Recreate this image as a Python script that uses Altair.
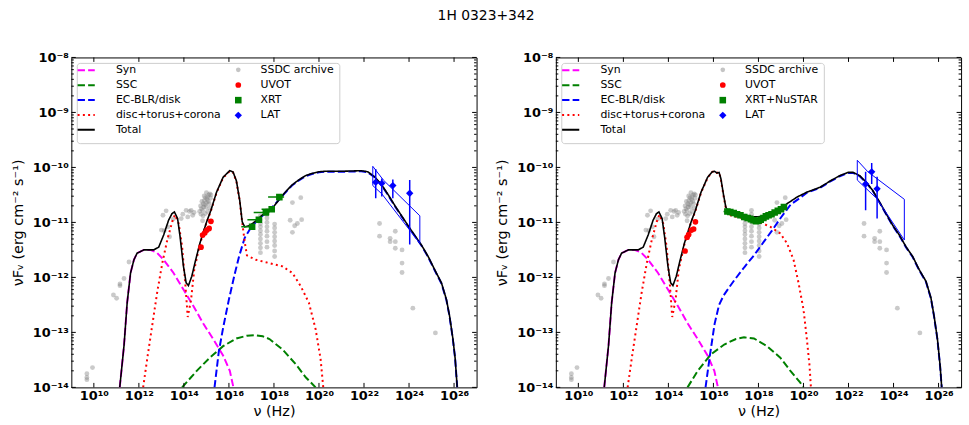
import math
import altair as alt
import pandas as pd

FONT = "DejaVu Sans"
W, H = 409, 333

# ---------------- model curves (log10 nu [Hz], log10 nuFnu [erg cm-2 s-1]) ----------------
SYN_X = [11.15, 11.34, 11.48, 11.63, 11.78, 11.92, 12.22, 12.50, 12.80, 13.10, 13.54, 13.98, 14.42, 14.86, 15.30, 15.74, 16.04, 16.20]
SYN_Y = [-14.0, -13.24, -12.46, -11.92, -11.68, -11.56, -11.50, -11.50, -11.55, -11.68, -11.92, -12.22, -12.52, -12.84, -13.12, -13.42, -13.70, -14.0]

SSC_L_X = [13.92, 14.57, 15.15, 15.74, 16.33, 16.80, 17.15, 17.50, 17.80, 18.38, 18.97, 19.42, 19.85]
SSC_L_Y = [-14.0, -13.70, -13.46, -13.25, -13.11, -13.06, -13.05, -13.07, -13.12, -13.31, -13.58, -13.82, -14.0]

EC_L_X = [15.36, 15.55, 15.75, 16.00, 16.25, 16.45, 16.70, 17.00, 17.36, 17.80, 18.20, 18.50, 18.80, 19.09, 19.40, 19.68, 20.00, 20.26, 21.00, 21.88, 22.17, 22.47, 22.79, 23.08, 23.38, 23.67, 23.96, 24.26, 24.55, 24.85, 25.14, 25.44, 25.66, 25.80, 25.95, 26.05, 26.14]
EC_L_Y = [-14.0, -13.35, -12.90, -12.40, -11.95, -11.62, -11.28, -11.08, -10.92, -10.78, -10.60, -10.46, -10.33, -10.24, -10.16, -10.12, -10.09, -10.08, -10.08, -10.07, -10.09, -10.18, -10.33, -10.51, -10.71, -10.89, -11.07, -11.25, -11.42, -11.63, -11.87, -12.11, -12.41, -12.71, -13.13, -13.49, -14.0]

DISC_L_X = [12.19, 12.37, 12.59, 12.81, 13.04, 13.26, 13.48, 13.60, 13.77, 13.92, 14.07, 14.17, 14.32, 14.46, 14.71, 15.00, 15.20, 15.45, 15.74, 16.03, 16.18, 16.33, 16.48, 16.59, 16.70, 16.80, 17.20, 17.80, 18.38, 18.82, 19.19, 19.55, 19.85, 20.07, 20.19]
DISC_L_Y = [-14.0, -13.48, -12.88, -12.28, -11.74, -11.32, -10.99, -10.86, -11.02, -11.44, -12.16, -12.72, -12.40, -11.86, -11.40, -11.01, -10.79, -10.46, -10.19, -10.07, -10.09, -10.25, -10.61, -11.0, -11.35, -11.60, -11.68, -11.74, -11.80, -11.92, -12.16, -12.46, -12.94, -13.48, -14.0]

TOT_L_X = [11.15, 11.34, 11.48, 11.63, 11.78, 11.92, 12.22, 12.66, 12.88, 13.10, 13.32, 13.47, 13.58, 13.72, 13.83, 13.98, 14.10, 14.20, 14.35, 14.50, 14.71, 15.00, 15.20, 15.45, 15.74, 16.03, 16.18, 16.33, 16.48, 16.59, 16.70, 16.92, 17.20, 17.50, 17.92, 18.20, 18.50, 18.80, 19.09, 19.40, 19.68, 20.00, 20.26, 21.00, 21.88, 22.17, 22.47, 22.79, 23.08, 23.38, 23.67, 23.96, 24.26, 24.55, 24.85, 25.14, 25.44, 25.66, 25.80, 25.95, 26.05, 26.14]
TOT_L_Y = [-14.0, -13.24, -12.46, -11.92, -11.68, -11.56, -11.50, -11.50, -11.45, -11.23, -10.96, -10.84, -10.81, -10.93, -11.26, -11.80, -12.10, -12.15, -11.98, -11.72, -11.38, -11.00, -10.78, -10.45, -10.18, -10.06, -10.08, -10.24, -10.60, -10.99, -11.08, -11.06, -10.97, -10.86, -10.75, -10.60, -10.45, -10.32, -10.23, -10.15, -10.11, -10.08, -10.07, -10.07, -10.06, -10.08, -10.17, -10.32, -10.50, -10.70, -10.88, -11.06, -11.24, -11.41, -11.62, -11.86, -12.10, -12.40, -12.70, -13.12, -13.48, -14.0]

SSC_R_X = [14.85, 15.30, 15.89, 16.48, 17.00, 17.36, 17.80, 18.38, 18.97, 19.42, 19.85, 20.0]
SSC_R_Y = [-14.0, -13.70, -13.40, -13.22, -13.12, -13.09, -13.11, -13.25, -13.46, -13.70, -13.91, -14.0]

EC_R_X = [15.65, 15.85, 16.05, 16.25, 16.45, 16.70, 16.93, 17.36, 17.80, 18.24, 18.60, 19.00, 19.44, 19.87, 20.15, 20.74, 21.17, 21.61, 21.98, 22.20, 22.50, 22.79, 23.08, 23.38, 23.67, 23.96, 24.26, 24.55, 24.85, 25.14, 25.44, 25.66, 25.80, 25.95, 26.07, 26.14]
EC_R_Y = [-14.0, -13.40, -12.85, -12.50, -12.33, -12.18, -12.05, -11.82, -11.60, -11.35, -11.15, -10.91, -10.67, -10.55, -10.46, -10.37, -10.26, -10.16, -10.10, -10.10, -10.16, -10.28, -10.43, -10.64, -10.85, -11.06, -11.24, -11.45, -11.63, -11.87, -12.08, -12.38, -12.71, -13.13, -13.62, -14.0]

DISC_R_X = [12.19, 12.37, 12.59, 12.81, 13.04, 13.26, 13.48, 13.60, 13.77, 13.92, 14.07, 14.17, 14.32, 14.46, 14.71, 15.00, 15.20, 15.45, 15.74, 15.95, 16.05, 16.15, 16.25, 16.33, 16.45, 16.55, 16.65, 16.80, 17.30, 17.80, 18.09, 18.53, 18.97, 19.27, 19.56, 19.78, 20.00, 20.15, 20.27, 20.33]
DISC_R_Y = [-14.0, -13.48, -12.88, -12.28, -11.74, -11.32, -10.99, -10.86, -11.02, -11.44, -12.16, -12.72, -12.40, -11.86, -11.40, -11.01, -10.79, -10.46, -10.19, -10.08, -10.07, -10.10, -10.09, -10.21, -10.52, -10.74, -10.83, -10.88, -10.92, -10.96, -11.00, -11.08, -11.20, -11.38, -11.68, -12.10, -12.58, -13.12, -13.61, -14.0]

TOT_R_X = [11.15, 11.34, 11.48, 11.63, 11.78, 11.92, 12.22, 12.66, 12.88, 13.10, 13.32, 13.47, 13.58, 13.72, 13.83, 13.98, 14.10, 14.20, 14.35, 14.50, 14.71, 15.00, 15.20, 15.45, 15.74, 15.95, 16.05, 16.15, 16.25, 16.33, 16.45, 16.55, 16.65, 16.80, 17.21, 17.80, 18.24, 18.41, 18.71, 19.08, 19.27, 19.71, 20.15, 20.74, 21.17, 21.61, 21.98, 22.20, 22.50, 22.79, 23.08, 23.38, 23.67, 23.96, 24.26, 24.55, 24.85, 25.14, 25.44, 25.66, 25.80, 25.95, 26.07, 26.14]
TOT_R_Y = [-14.0, -13.24, -12.46, -11.92, -11.68, -11.56, -11.50, -11.50, -11.45, -11.23, -10.96, -10.84, -10.81, -10.93, -11.26, -11.80, -12.10, -12.15, -11.98, -11.72, -11.38, -11.00, -10.78, -10.45, -10.18, -10.08, -10.07, -10.10, -10.09, -10.20, -10.50, -10.72, -10.80, -10.83, -10.86, -10.90, -10.89, -10.85, -10.81, -10.73, -10.66, -10.54, -10.45, -10.36, -10.25, -10.15, -10.09, -10.09, -10.15, -10.27, -10.42, -10.63, -10.84, -11.05, -11.23, -11.44, -11.62, -11.86, -12.07, -12.37, -12.70, -13.12, -13.61, -14.0]

# ---------------- data points ----------------
SSDC_X = [9.69, 9.69, 9.69, 9.94, 10.87, 11.01, 11.16, 11.16, 11.34, 11.56,
          13.00, 13.07, 13.13, 13.21, 13.29, 13.36, 13.52, 13.88, 13.95, 14.10, 14.17, 14.25, 14.32, 14.39, 14.45,
          14.70, 14.74, 14.78, 14.80, 14.83, 14.86, 14.88, 14.91, 14.93, 14.96, 14.98, 15.00, 15.03, 15.05, 15.08,
          15.10, 15.12, 15.15, 15.18, 15.20, 14.76, 14.85, 14.95, 15.05, 15.15, 14.90, 15.00, 14.83,
          17.40, 17.40, 17.40, 17.40, 17.40, 17.40, 17.40, 17.40, 17.40, 17.40,
          17.69, 17.69, 17.69, 17.69, 17.69, 17.69, 17.69, 17.69, 17.69,
          18.03, 18.03, 18.03, 18.03, 18.03, 18.03, 18.03, 18.03,
          18.72, 18.82, 18.82, 18.92, 19.04, 19.19, 19.23,
          22.69, 22.69, 23.16, 23.16, 23.39, 23.39, 23.39, 23.69, 23.69, 23.69, 24.17, 25.17]
SSDC_Y = [-13.75, -13.82, -13.86, -13.64, -12.32, -12.38, -12.12, -12.15, -12.02, -11.72,
          -11.14, -10.87, -11.15, -10.79, -11.08, -11.26, -10.94, -10.93, -10.85, -10.78, -10.90, -10.80, -10.78, -10.87, -10.82,
          -10.80, -10.70, -10.75, -10.62, -10.78, -10.66, -10.72, -10.60, -10.68, -10.55, -10.72, -10.64, -10.58, -10.54, -10.62,
          -10.50, -10.66, -10.48, -10.56, -10.50, -10.85, -10.88, -10.84, -10.80, -10.74, -10.52, -10.46, -10.97,
          -10.88, -10.95, -11.02, -11.08, -11.15, -11.22, -11.30, -11.38, -11.46, -11.55,
          -10.78, -10.85, -10.92, -11.00, -11.08, -11.16, -11.25, -11.35, -11.45,
          -11.03, -11.10, -11.18, -11.26, -11.34, -11.42, -11.52, -11.62,
          -10.96, -10.64, -11.18, -11.06, -11.02, -10.55, -10.95,
          -11.02, -11.25, -11.29, -11.35, -11.16, -11.35, -11.47, -11.50, -11.74, -11.91, -12.56, -13.01]

UVOT_L_X = [14.76, 14.83, 14.93, 15.02, 15.12, 15.20]
UVOT_L_Y = [-11.45, -11.23, -11.19, -11.14, -11.11, -10.98]
UVOT_R_X = [14.74, 14.83, 14.90, 15.02, 15.12, 15.20]
UVOT_R_Y = [-11.52, -11.27, -11.22, -11.14, -11.12, -10.99]

XRT_L_X = [17.03, 17.33, 17.64, 17.90, 18.24]
XRT_L_Y = [-11.08, -10.95, -10.82, -10.76, -10.54]
XRT_L_LO = [16.55, 16.82, 17.10, 17.45, 17.74]
XRT_L_HI = [17.10, 17.42, 17.80, 18.00, 18.45]

XRT_R_X = [16.62, 16.75, 16.90, 17.05, 17.20, 17.37, 17.52, 17.66, 17.78, 17.89, 18.00, 18.10, 18.22, 18.33, 18.45, 18.58, 18.72, 18.86, 19.00, 19.13]
XRT_R_Y = [-10.80, -10.81, -10.83, -10.85, -10.87, -10.90, -10.92, -10.94, -10.96, -10.98, -10.97, -10.95, -10.92, -10.89, -10.87, -10.85, -10.82, -10.79, -10.76, -10.72]
XRT_R_LO = [16.45, 16.68, 16.83, 16.98, 17.13, 17.30, 17.45, 17.59, 17.72, 17.83, 17.94, 18.04, 18.16, 18.27, 18.39, 18.52, 18.66, 18.80, 18.94, 19.07]
XRT_R_HI = [16.69, 16.82, 16.97, 17.12, 17.27, 17.44, 17.59, 17.73, 17.84, 17.95, 18.06, 18.16, 18.28, 18.39, 18.51, 18.64, 18.78, 18.92, 19.06, 19.19]

LAT_L_X = [22.52, 22.79, 23.28, 24.03]
LAT_L_Y = [-10.27, -10.29, -10.33, -10.47]
LAT_L_YLO = [-10.56, -10.53, -10.56, -11.40]
LAT_L_YHI = [-10.03, -10.20, -10.22, -10.23]
LAT_L_XLO = [22.45, 22.72, 23.21, 23.96]
LAT_L_XHI = [22.59, 22.86, 23.35, 24.10]

LAT_R_X = [22.76, 23.03, 23.27]
LAT_R_Y = [-10.30, -10.08, -10.39]
LAT_R_YLO = [-10.78, -10.30, -10.93]
LAT_R_YHI = [-10.08, -9.92, -10.17]
LAT_R_XLO = [22.69, 22.96, 23.20]
LAT_R_XHI = [22.83, 23.10, 23.34]

BOW_L_X = [22.39, 22.86, 24.48, 24.48, 22.79, 22.39, 22.39]
BOW_L_Y = [-9.98, -10.23, -10.88, -11.38, -10.48, -10.33, -9.98]
BOW_R_X = [22.39, 22.86, 24.48, 24.48, 23.24, 22.39, 22.39]
BOW_R_Y = [-9.87, -10.08, -10.58, -11.32, -10.56, -10.23, -9.87]

# ---------------- styling ----------------
COMPS = ["Syn", "SSC", "EC-BLR/disk", "disc+torus+corona", "Total"]
COMP_COLORS = ["#ff00ff", "#008000", "#0000ff", "#ff0000", "#000000"]
COMP_DASH = [[7.4, 3.2], [7.4, 3.2], [7.4, 3.2], [2, 3.3], [1, 0]]
COMP_WIDTH = [2, 2, 2, 2, 1.6]

XVALS = [10, 12, 14, 16, 18, 20, 22, 24, 26]
YVALS = [-14, -13, -12, -11, -10, -9, -8]
YMINOR = [n + math.log10(k) for n in range(-14, -8) for k in range(2, 10)]

SUP = str.maketrans("-0123456789", "⁻⁰¹²³⁴⁵⁶⁷⁸⁹")


def label_expr(vals):
    return " : ".join(f"datum.value == {v} ? '10{str(v).translate(SUP)}'" for v in vals) + " : ''"


xscale = alt.Scale(domain=[9, 27], nice=False, zero=False)
yscale = alt.Scale(domain=[-14, -8], nice=False, zero=False)

xaxis = alt.Axis(values=XVALS, labelExpr=label_expr(XVALS), ticks=False, domain=False, grid=False,
                 title="ν (Hz)", labelFont=FONT, labelFontSize=13, labelFontWeight="bold",
                 labelColor="black", labelPadding=2, labelFlush=False, labelOverlap=False,
                 titleFont=FONT, titleFontSize=14.5, titleFontWeight="normal", titleColor="black",
                 titlePadding=2)
yaxis = alt.Axis(values=YVALS, labelExpr=label_expr(YVALS), ticks=False, domain=False, grid=False,
                 title="νFᵥ  (erg cm⁻² s⁻¹)", labelFont=FONT, labelFontSize=13, labelFontWeight="bold",
                 labelColor="black", labelPadding=3, labelFlush=False, labelOverlap=False,
                 titleFont=FONT, titleFontSize=14.5, titleFontWeight="normal", titleColor="black",
                 titlePadding=7)


def X(f):
    return alt.X(f, type="quantitative", scale=xscale, axis=xaxis)


def Y(f):
    return alt.Y(f, type="quantitative", scale=yscale, axis=yaxis)


line_legend = alt.Legend(orient="none", legendX=5, legendY=3, title=None, symbolType="stroke",
                         symbolSize=300, symbolStrokeWidth=2, labelFont=FONT, labelFontSize=11,
                         labelColor="black", labelOffset=20, rowPadding=-0.35, padding=0)
pt_legend = alt.Legend(orient="none", legendX=163, legendY=7, title=None, labelFont=FONT,
                       labelFontSize=11, labelColor="black", labelOffset=17, rowPadding=3.3,
                       padding=0, symbolStrokeWidth=0)

SETS_COLORS = ["#c4c4c4", "#ff0000", "#008000", "#0000ff"]


def panel(curves, uvot, xrt, lat, bow, xrt_label):
    rows = []
    for comp, (cx, cy) in zip(COMPS, curves):
        for i, (a, b) in enumerate(zip(cx, cy)):
            rows.append({"comp": comp, "lx": a, "ly": b, "i": i})
    cdf = pd.DataFrame(rows)
    line_layers = []
    for comp, wdt in zip(COMPS, COMP_WIDTH):
        line_layers.append(
            alt.Chart(cdf).transform_filter(alt.datum.comp == comp)
            .mark_line(clip=True, strokeWidth=wdt)
            .encode(x=X("lx"), y=Y("ly"),
                    color=alt.Color("comp:N", scale=alt.Scale(domain=COMPS, range=COMP_COLORS), legend=line_legend),
                    strokeDash=alt.StrokeDash("comp:N", scale=alt.Scale(domain=COMPS, range=COMP_DASH), legend=line_legend),
                    order="i:Q")
        )
    curves_layer = alt.layer(*line_layers)

    sets = ["SSDC archive", "UVOT", xrt_label, "LAT"]

    gdf = pd.DataFrame({"lx": SSDC_X, "ly": SSDC_Y})
    gray = alt.Chart(gdf).mark_circle(color="#808080", opacity=0.42, size=24, clip=True).encode(
        x=X("lx"), y=Y("ly"))

    prow = []
    for a, b in zip(*uvot):
        prow.append({"set": "UVOT", "lx": a, "ly": b})
    for a, b in zip(xrt[0], xrt[1]):
        prow.append({"set": xrt_label, "lx": a, "ly": b})
    for a, b in zip(lat[0], lat[1]):
        prow.append({"set": "LAT", "lx": a, "ly": b})
    pdf = pd.DataFrame(prow)

    points = alt.Chart(pdf).mark_point(filled=True, clip=True, strokeWidth=0, opacity=1).encode(
        x=X("lx"), y=Y("ly"),
        color=alt.Color("set:N", scale=alt.Scale(domain=sets, range=SETS_COLORS), legend=pt_legend),
        shape=alt.Shape("set:N", scale=alt.Scale(domain=sets, range=["circle", "circle", "square", "diamond"]), legend=pt_legend),
        size=alt.Size("set:N", scale=alt.Scale(domain=sets, range=[22, 55, 55, 50]), legend=pt_legend),
    )

    xdf = pd.DataFrame({"lx": xrt[0], "ly": xrt[1], "lo": xrt[2], "hi": xrt[3]})
    xrt_bars = alt.Chart(xdf).mark_rule(color="#008000", strokeWidth=1.5, clip=True).encode(
        x=X("lo"), x2="hi", y=Y("ly"))

    ldf = pd.DataFrame({"lx": lat[0], "ly": lat[1], "ylo": lat[2], "yhi": lat[3], "xlo": lat[4], "xhi": lat[5]})
    lat_v = alt.Chart(ldf).mark_rule(color="#0000ff", strokeWidth=1.5, clip=True).encode(
        x=X("lx"), y=Y("ylo"), y2="yhi")
    lat_h = alt.Chart(ldf).mark_rule(color="#0000ff", strokeWidth=1.5, clip=True).encode(
        x=X("xlo"), x2="xhi", y=Y("ly"))

    bdf = pd.DataFrame({"lx": bow[0], "ly": bow[1], "i": list(range(len(bow[0])))})
    bowtie = alt.Chart(bdf).mark_line(color="#0000ff", strokeWidth=1, clip=True).encode(
        x=X("lx"), y=Y("ly"), order="i:Q")

    xt = pd.DataFrame({"v": XVALS})
    yt = pd.DataFrame({"v": YVALS})
    ym = pd.DataFrame({"v": YMINOR})
    tk = dict(color="black", strokeWidth=1)
    ticks = [
        alt.Chart(xt).mark_rule(**tk).encode(x=X("v"), y=alt.value(H), y2=alt.value(H - 4.5)),
        alt.Chart(xt).mark_rule(**tk).encode(x=X("v"), y=alt.value(0), y2=alt.value(4.5)),
        alt.Chart(yt).mark_rule(**tk).encode(y=Y("v"), x=alt.value(0), x2=alt.value(4.5)),
        alt.Chart(yt).mark_rule(**tk).encode(y=Y("v"), x=alt.value(W), x2=alt.value(W - 4.5)),
        alt.Chart(ym).mark_rule(**tk).encode(y=Y("v"), x=alt.value(0), x2=alt.value(2.5)),
        alt.Chart(ym).mark_rule(**tk).encode(y=Y("v"), x=alt.value(W), x2=alt.value(W - 2.5)),
    ]

    frame = alt.Chart(pd.DataFrame({"a": [0]})).mark_rect(
        fill="white", stroke="#cccccc", strokeWidth=1, cornerRadius=3, opacity=1).encode(
        x=alt.value(6), x2=alt.value(271), y=alt.value(6), y2=alt.value(87))

    return alt.layer(
        gray, curves_layer, bowtie, xrt_bars, lat_v, lat_h, points, frame, *ticks
    ).resolve_scale(
        color="independent", strokeDash="independent", shape="independent", size="independent"
    ).properties(width=W, height=H)


left = panel(
    [(SYN_X, SYN_Y), (SSC_L_X, SSC_L_Y), (EC_L_X, EC_L_Y), (DISC_L_X, DISC_L_Y), (TOT_L_X, TOT_L_Y)],
    (UVOT_L_X, UVOT_L_Y),
    (XRT_L_X, XRT_L_Y, XRT_L_LO, XRT_L_HI),
    (LAT_L_X, LAT_L_Y, LAT_L_YLO, LAT_L_YHI, LAT_L_XLO, LAT_L_XHI),
    (BOW_L_X, BOW_L_Y),
    "XRT",
)
right = panel(
    [(SYN_X, SYN_Y), (SSC_R_X, SSC_R_Y), (EC_R_X, EC_R_Y), (DISC_R_X, DISC_R_Y), (TOT_R_X, TOT_R_Y)],
    (UVOT_R_X, UVOT_R_Y),
    (XRT_R_X, XRT_R_Y, XRT_R_LO, XRT_R_HI),
    (LAT_R_X, LAT_R_Y, LAT_R_YLO, LAT_R_YHI, LAT_R_XLO, LAT_R_XHI),
    (BOW_R_X, BOW_R_Y),
    "XRT+NuSTAR",
)

chart = alt.hconcat(left, right, spacing=80, bounds="flush").resolve_scale(
    color="independent", shape="independent", size="independent", strokeDash="independent",
).properties(
    title=alt.TitleParams("1H 0323+342", font=FONT, fontSize=14, fontWeight="normal",
                          color="black", anchor="middle", offset=28),
    padding={"left": 10, "top": 7, "right": 7, "bottom": 6},
    background="white",
).configure_view(stroke="black", strokeWidth=1)

chart.save("out.html", embed_options={"renderer": "svg", "actions": False})
